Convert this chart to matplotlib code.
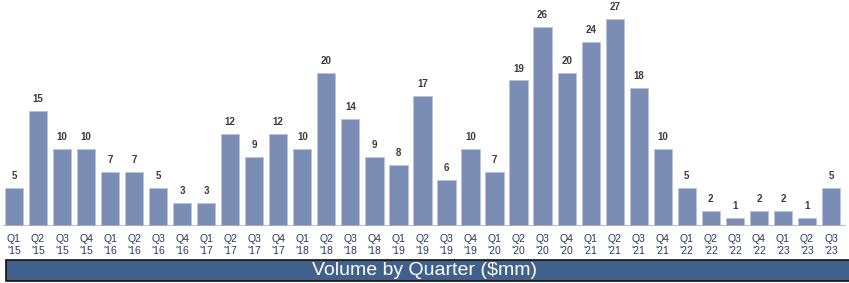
import matplotlib
matplotlib.use("Agg")
import matplotlib.pyplot as plt
from matplotlib.patches import Rectangle

# Data
quarters = ['Q1', 'Q2', 'Q3', 'Q4'] * 8 + ['Q1', 'Q2', 'Q3']
years = ['15'] * 4 + ['16'] * 4 + ['17'] * 4 + ['18'] * 4 + ['19'] * 4 + \
        ['20'] * 4 + ['21'] * 4 + ['22'] * 4 + ['23'] * 3
volume = [5, 15, 10, 10, 7, 7, 5, 3, 3, 12, 9, 12, 10, 20, 14, 9, 8, 17, 6, 10,
          7, 19, 26, 20, 24, 27, 18, 10, 5, 2, 1, 2, 2, 1, 5]
labels = ["%s\n'%s" % (q, y) for q, y in zip(quarters, years)]
banner_text = 'Volume by Quarter ($mm)'

plt.rcParams['font.family'] = ['Liberation Sans', 'DejaVu Sans']

W, H = 849, 283
fig = plt.figure(figsize=(W / 100, H / 100), dpi=100)

# Bars
base_px = 226
ax = fig.add_axes([0, (H - base_px) / H, 1, base_px / H])
x = list(range(len(volume)))
ax.bar(x, volume, width=0.76, color='#7b8db5', edgecolor='#b8c4dc', linewidth=0.6, zorder=2)
ax.set_xlim(-0.58, 34.75)
ax.set_ylim(0, 29.5)
for xi, v in zip(x, volume):
    ax.text(xi, v + 0.9, str(v), ha='center', va='bottom', fontsize=7,
            color='#3a3a3a', fontweight='semibold')
ax.axhline(0, xmin=0.005, xmax=0.995, color='#b0b0b0', lw=1.2, zorder=3)
for s in ax.spines.values():
    s.set_visible(False)
ax.set_yticks([])
ax.set_xticks(x)
ax.set_xticklabels(labels, fontsize=7.5, color='#1f3a64', linespacing=1.25)
ax.tick_params(axis='x', length=0, pad=6)

# Banner
fig.patches.append(Rectangle((6 / W, 2 / H), (W - 4) / W, 21 / H,
                             transform=fig.transFigure, facecolor='#41618d',
                             edgecolor='#111111', linewidth=1.2))
fig.text(0.5, 12.5 / H, banner_text, ha='center', va='center', fontsize=14,
         color='white')

fig.savefig('out.png', dpi=100)
